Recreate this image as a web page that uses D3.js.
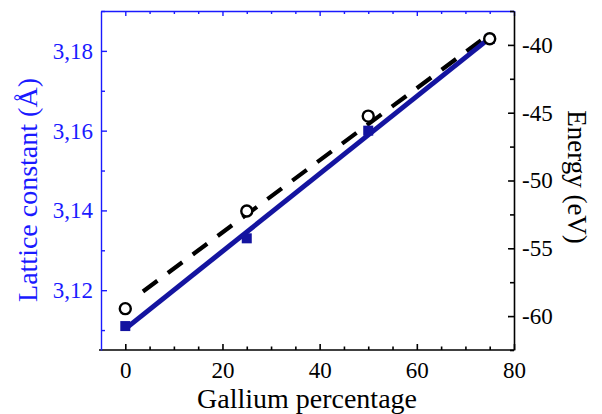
<!DOCTYPE html>
<html>
<head>
<meta charset="utf-8">
<script src="https://cdn.jsdelivr.net/npm/d3@7"></script>
<style>
  html, body { margin: 0; padding: 0; background: #fff; }
  svg text { font-family: "Liberation Serif", "Times New Roman", "DejaVu Serif", serif !important; }
</style>
</head>
<body>
<svg id="chart" width="602" height="414"></svg>
<script>
// ---- data ----
const gallium = [0, 25, 50, 75];
const latticeConstant = [3.111, 3.133, 3.160, 3.183];
const energy = [-59.45, -52.25, -45.25, -39.55];
// straight fit lines (endpoints at x = 0 and x = 75)
const fitX = [0, 75];
const latticeFit = [3.1103, 3.1832];
const energyFit = [-59.15, -39.2];

const xMajorTicks = [0, 20, 40, 60, 80];
const xMinorTicks = [5, 10, 15, 25, 30, 35, 45, 50, 55, 65, 70, 75];
const leftMajorTicks = [3.12, 3.14, 3.16, 3.18];
const leftMinorTicks = [3.11, 3.13, 3.15, 3.17, 3.19];
const rightMajorTicks = [-60, -55, -50, -45, -40];
const rightMinorTicks = [-62.5, -57.5, -52.5, -47.5, -42.5, -37.5];

const xTitle = "Gallium percentage";
const leftTitle = "Lattice constant (Å)";
const rightTitle = "Energy (eV)";

// ---- layout ----
const L = 101, R = 514, T = 11, B = 350;
const blueAxis = "#1a1aff";
const dataBlue = "#1414a0";
const serif = "'Liberation Serif', 'Times New Roman', 'DejaVu Serif', serif";

const svg = d3.select("#chart");
const x = d3.scaleLinear().domain([-5, 80]).range([L, R]);
const yL = d3.scaleLinear().domain([3.105, 3.19]).range([B, T]);
const yR = d3.scaleLinear().domain([-62.5, -37.5]).range([B, T]);

const fontSize = 23;

function styleAxis(g, color, width) {
  g.attr("font-family", null).attr("font-size", null);
  g.select(".domain").attr("stroke", color).attr("stroke-width", width);
  g.selectAll(".tick line").attr("stroke", color).attr("stroke-width", width);
  g.selectAll(".tick text").attr("fill", color).style("font-size", fontSize + "px")
    .style("font-family", serif);
}

// bottom axis
const gB = svg.append("g").attr("transform", `translate(0,${B})`)
  .call(d3.axisBottom(x).tickValues(xMajorTicks).tickSizeInner(-6).tickSizeOuter(0).tickPadding(12).tickFormat(d3.format("d")));
styleAxis(gB, "#000", 1.6);
gB.select(".domain").attr("d", `M${L - 2},0H${R}`);
const gBm = svg.append("g").attr("transform", `translate(0,${B})`)
  .call(d3.axisBottom(x).tickValues(xMinorTicks).tickSizeInner(-3.5).tickSizeOuter(0).tickFormat(""));
gBm.select(".domain").remove();
styleAxis(gBm, "#000", 1.6);

// top axis (blue, ticks inward)
const gT = svg.append("g").attr("transform", `translate(0,${T})`)
  .call(d3.axisTop(x).tickValues(xMajorTicks).tickSizeInner(-5).tickSizeOuter(0).tickFormat(""));
styleAxis(gT, blueAxis, 1.4);
const gTm = svg.append("g").attr("transform", `translate(0,${T})`)
  .call(d3.axisTop(x).tickValues(xMinorTicks).tickSizeInner(-3).tickSizeOuter(0).tickFormat(""));
gTm.select(".domain").remove();
styleAxis(gTm, blueAxis, 1.4);

// left axis (blue)
const gL = svg.append("g").attr("transform", `translate(${L},0)`)
  .call(d3.axisLeft(yL).tickValues(leftMajorTicks).tickSizeInner(-6).tickSizeOuter(0).tickPadding(8)
    .tickFormat(d => d.toFixed(2).replace(".", ",")));
styleAxis(gL, blueAxis, 1.4);
const gLm = svg.append("g").attr("transform", `translate(${L},0)`)
  .call(d3.axisLeft(yL).tickValues(leftMinorTicks).tickSizeInner(-4).tickSizeOuter(0).tickFormat(""));
gLm.select(".domain").remove();
styleAxis(gLm, blueAxis, 1.4);

// right axis (black)
const gR = svg.append("g").attr("transform", `translate(${R},0)`)
  .call(d3.axisRight(yR).tickValues(rightMajorTicks).tickSizeInner(-6).tickSizeOuter(0).tickPadding(8)
    .tickFormat(d => String(d)));
styleAxis(gR, "#000", 1.6);
const gRm = svg.append("g").attr("transform", `translate(${R},0)`)
  .call(d3.axisRight(yR).tickValues(rightMinorTicks).tickSizeInner(-4).tickSizeOuter(0).tickFormat(""));
gRm.select(".domain").remove();
styleAxis(gRm, "#000", 1.6);

// titles
svg.append("text").attr("x", 307).attr("y", 408).attr("text-anchor", "middle")
  .style("font-size", "28px").style("font-family", serif).attr("fill", "#000").text(xTitle);
svg.append("text").attr("transform", "translate(37,190) rotate(-90)").attr("text-anchor", "middle")
  .style("font-size", "28px").style("font-family", serif).attr("fill", blueAxis).text(leftTitle);
svg.append("text").attr("transform", "translate(568,177) rotate(90)").attr("text-anchor", "middle")
  .style("font-size", "27px").style("font-family", serif).attr("fill", "#000").text(rightTitle);

// dashed energy fit line
const energyLine = d3.line().x((d, i) => x(fitX[i])).y(d => yR(d));
let dash = "0,22";
for (let i = 0; i < 20; i++) dash += ",18,13";
svg.append("path").datum(energyFit).attr("d", energyLine)
  .attr("fill", "none").attr("stroke", "#000").attr("stroke-width", 4.2)
  .attr("stroke-dasharray", dash);

// solid lattice fit line
const latLine = d3.line().x((d, i) => x(fitX[i])).y(d => yL(d));
svg.append("path").datum(latticeFit).attr("d", latLine)
  .attr("fill", "none").attr("stroke", dataBlue).attr("stroke-width", 5);

// squares
const sq = 10;
svg.selectAll("rect.sq").data(latticeConstant).join("rect").attr("class", "sq")
  .attr("x", (d, i) => x(gallium[i]) - sq / 2).attr("y", d => yL(d) - sq / 2)
  .attr("width", sq).attr("height", sq).attr("fill", dataBlue);

// open circles
svg.selectAll("circle.en").data(energy).join("circle").attr("class", "en")
  .attr("cx", (d, i) => x(gallium[i])).attr("cy", d => yR(d)).attr("r", 5.5)
  .attr("fill", "#fff").attr("stroke", "#000").attr("stroke-width", 2.4);
</script>
</body>
</html>
